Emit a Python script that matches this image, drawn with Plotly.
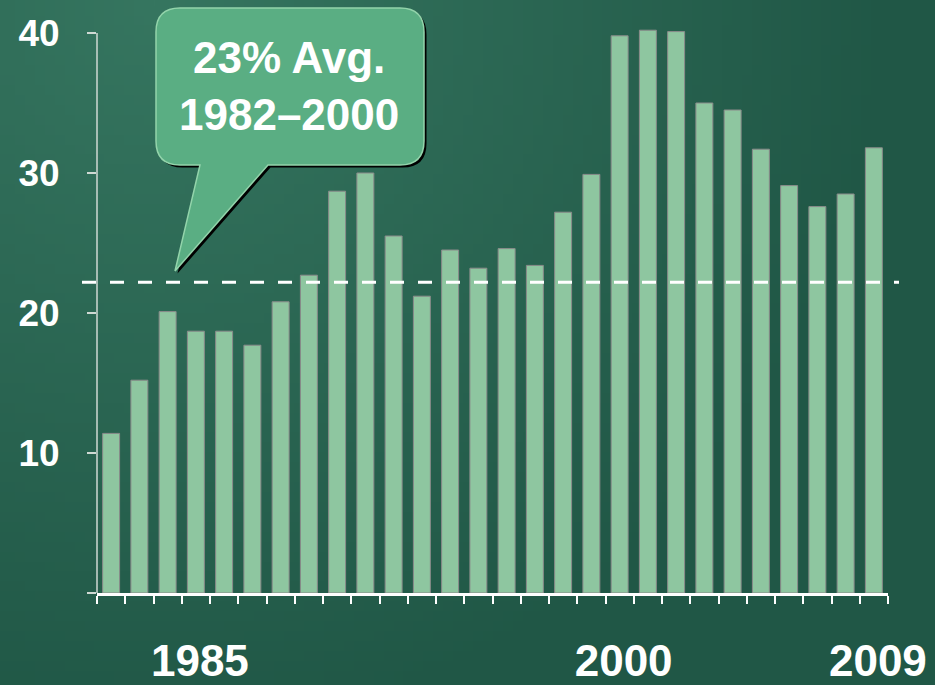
import base64
import struct
import zlib

import numpy as np
import plotly.graph_objs as go

# data
years = list(range(1982, 2010))
values = [11.4, 15.2, 20.1, 18.7, 18.7, 17.7, 20.8, 22.7, 28.7, 30.0,
          25.5, 21.2, 24.5, 23.2, 24.6, 23.4, 27.2, 29.9, 39.8, 40.2,
          40.1, 35.0, 34.5, 31.7, 29.1, 27.6, 28.5, 31.8]
avg_value = 22.2
avg_label = '23% Avg.<br>1982–2000'
x_label_years = [1985, 2000, 2009]
y_ticks = [0, 10, 20, 30, 40]
y_tick_text = ['', '10', '20', '30', '40']

W, H = 935, 685
L, R, T, B = 97, 47, 26, 92
PW, PH = W - L - R, H - T - B
Y_MAX = 40.5   # a bit of headroom so the 2001/2002 bars are not cut
FONT = 'Liberation Sans, Arial, sans-serif'
AXIS_GREY = '#cfd9d3'


def px(x):
    return (x - L) / PW


def py(y):
    return (T + PH - y) / PH


def png_uri(rgb):
    h, w, _ = rgb.shape
    raw = b''.join(b'\x00' + rgb[r].tobytes() for r in range(h))

    def chunk(tag, data):
        c = tag + data
        return struct.pack('>I', len(data)) + c + struct.pack('>I', zlib.crc32(c) & 0xffffffff)

    png = (b'\x89PNG\r\n\x1a\n'
           + chunk(b'IHDR', struct.pack('>IIBBBBB', w, h, 8, 2, 0, 0, 0))
           + chunk(b'IDAT', zlib.compress(raw))
           + chunk(b'IEND', b''))
    return 'data:image/png;base64,' + base64.b64encode(png).decode()


# background: soft light spot near the top left, darker green elsewhere
gy, gx = np.mgrid[0:69, 0:94] * 10.0
t = np.clip(np.hypot(gx - 150, gy) / 750, 0, 1)[..., None]
light = np.array([54, 118, 96])
dark = np.array([32, 87, 70])
bg = (light + (dark - light) * t).astype(np.uint8)


def bubble_path(dx=0.0, dy=0.0):
    x0, x1, y0, y1, r = 156 + dx, 424 + dx, 8 + dy, 165 + dy, 24
    pts = [
        ('M', [(x0 + r, y0)]),
        ('L', [(x1 - r, y0)]),
        ('Q', [(x1, y0), (x1, y0 + r)]),
        ('L', [(x1, y1 - r)]),
        ('Q', [(x1, y1), (x1 - r, y1)]),
        ('L', [(268 + dx, y1)]),
        ('L', [(175 + dx, 271 + dy)]),
        ('L', [(200 + dx, y1)]),
        ('L', [(x0 + r, y1)]),
        ('Q', [(x0, y1), (x0, y1 - r)]),
        ('L', [(x0, y0 + r)]),
        ('Q', [(x0, y0), (x0 + r, y0)]),
    ]
    s = ''
    for cmd, pp in pts:
        s += cmd + ' ' + ' '.join(f'{px(a):.5f},{py(b):.5f}' for a, b in pp) + ' '
    return s + 'Z'


fig = go.Figure()
fig.add_trace(go.Bar(
    x=years, y=values, width=0.6,
    marker=dict(color='#8ec6a0', line=dict(color='#8a8a8a', width=1)),
    hoverinfo='skip'
))

# y axis line only up to the top tick
fig.add_shape(type='line', xref='paper', yref='y', x0=0, x1=0, y0=0, y1=y_ticks[-1],
              line=dict(color=AXIS_GREY, width=1.5), layer='above')
fig.add_shape(type='line', xref='paper', yref='y', x0=px(82), x1=px(899),
              y0=avg_value, y1=avg_value, layer='above',
              line=dict(color='white', width=3, dash='14px,14px'))
fig.add_shape(type='path', xref='paper', yref='paper', path=bubble_path(2.5, 2.5),
              fillcolor='black', line=dict(width=0), layer='above')
fig.add_shape(type='path', xref='paper', yref='paper', path=bubble_path(),
              fillcolor='#5aae83', line=dict(color='#93d4ab', width=1.5), layer='above')

fig.add_annotation(x=px(289), y=py(86), xref='paper', yref='paper', text=avg_label,
                   showarrow=False, xanchor='center', yanchor='middle',
                   font=dict(family=FONT, size=44, color='white', weight='bold'))

fig.add_layout_image(source=png_uri(bg), xref='paper', yref='paper',
                     x=-L / PW, y=1 + T / PH, sizex=W / PW, sizey=H / PH,
                     sizing='stretch', xanchor='left', yanchor='top', layer='below')

fig.update_xaxes(range=[1981.5, 2009.5], tickmode='array', tickvals=x_label_years,
                 ticks='', showline=True, linecolor='white', linewidth=3,
                 showgrid=False, zeroline=False, automargin=False,
                 ticklabelstandoff=27, ticklabelshift=4,
                 tickfont=dict(family=FONT, size=44, color='white', weight='bold'),
                 minor=dict(tickmode='linear', tick0=1981.5, dtick=1, ticks='outside',
                            ticklen=8, tickwidth=2, tickcolor='white', showgrid=False))
fig.update_yaxes(range=[0, Y_MAX], tickmode='array', tickvals=y_ticks, ticktext=y_tick_text,
                 ticks='outside', ticklen=9, tickwidth=1.5, tickcolor=AXIS_GREY,
                 showline=False, showgrid=False, zeroline=False, automargin=False,
                 ticklabelstandoff=20,
                 tickfont=dict(family=FONT, size=37, color='white', weight='bold'))

fig.update_layout(
    width=W, height=H,
    margin=dict(l=L, r=R, t=T, b=B, pad=0),
    paper_bgcolor='#27604c', plot_bgcolor='rgba(0,0,0,0)',
    showlegend=False
)

fig.write_html('out.html', config={'displayModeBar': False},
               post_script="document.body.style.margin='0';")
